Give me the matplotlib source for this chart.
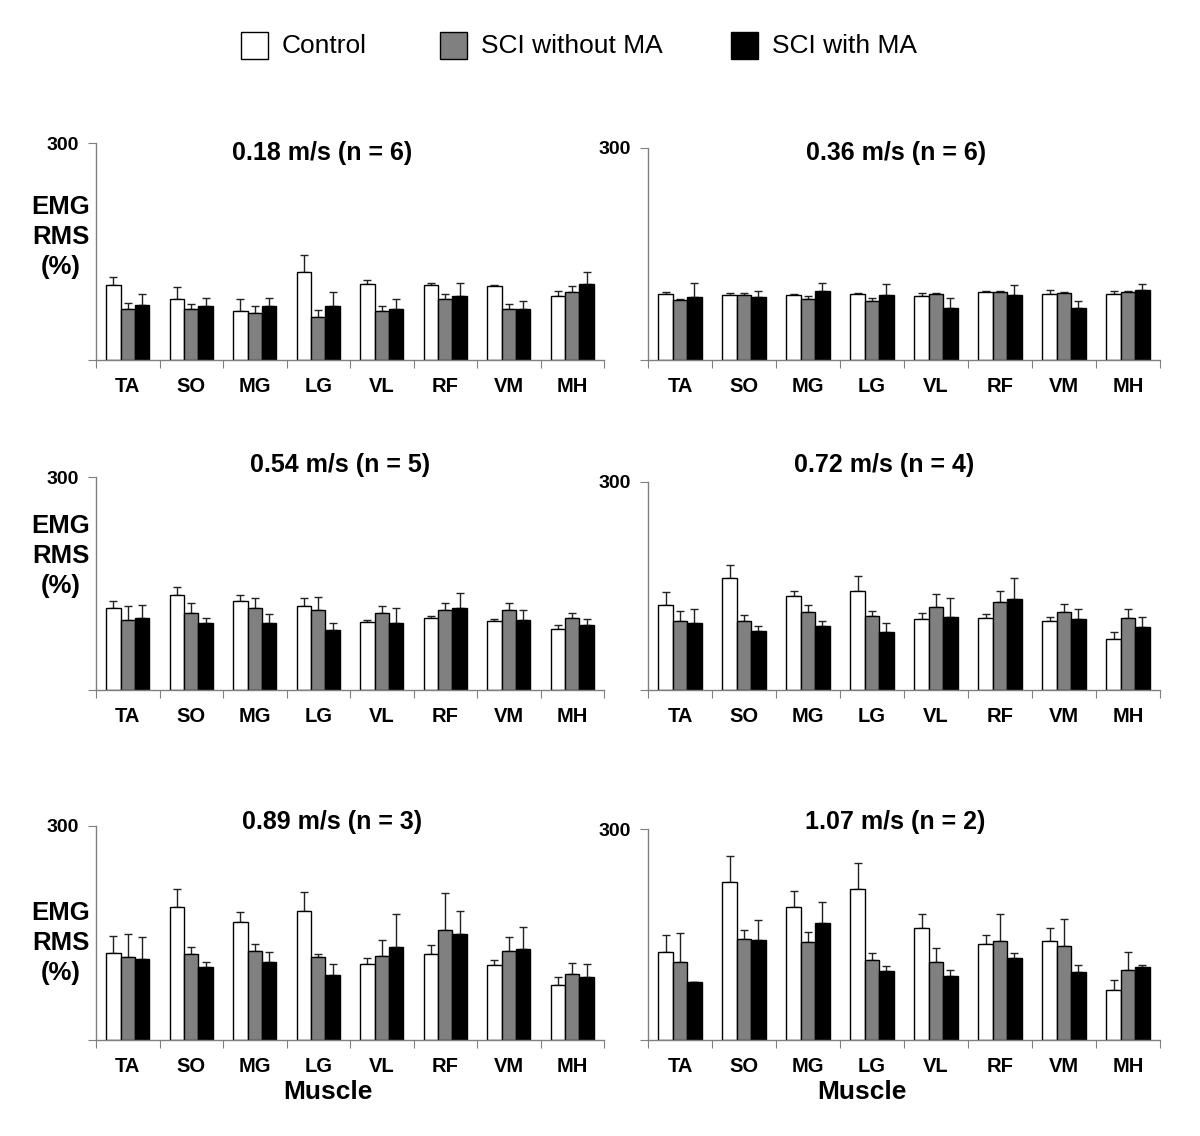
import numpy as np
import matplotlib
matplotlib.use('Agg')
import matplotlib.pyplot as plt
from matplotlib.patches import Rectangle

plt.rcParams['font.family'] = ['Liberation Sans', 'DejaVu Sans']

muscles = ['TA', 'SO', 'MG', 'LG', 'VL', 'RF', 'VM', 'MH']
groups = ['Control', 'SCI without MA', 'SCI with MA']
speeds = ['0.18 m/s (n = 6)', '0.36 m/s (n = 6)', '0.54 m/s (n = 5)',
          '0.72 m/s (n = 4)', '0.89 m/s (n = 3)', '1.07 m/s (n = 2)']

# mean EMG RMS (%) per speed, one list per group
control = [
    [103, 85, 68, 121, 105, 103, 102, 88],
    [94, 92, 92, 94, 90, 96, 94, 94],
    [115, 134, 126, 118, 96, 101, 97, 86],
    [122, 161, 135, 143, 103, 104, 100, 74],
    [122, 186, 165, 181, 107, 120, 105, 77],
    [125, 224, 189, 214, 159, 137, 141, 71],
]
control_err = [
    [12, 16, 16, 24, 5, 3, 1, 7],
    [2, 3, 2, 1, 5, 2, 5, 3],
    [11, 11, 8, 11, 3, 3, 3, 5],
    [19, 19, 8, 21, 8, 6, 6, 9],
    [24, 25, 14, 27, 8, 13, 7, 11],
    [25, 38, 23, 38, 20, 13, 18, 14],
]
sci_no_ma = [
    [71, 70, 65, 60, 68, 85, 70, 94],
    [85, 92, 87, 83, 94, 96, 95, 96],
    [99, 109, 116, 112, 109, 113, 113, 101],
    [99, 100, 113, 107, 119, 127, 113, 104],
    [116, 121, 125, 117, 118, 154, 125, 93],
    [111, 144, 140, 114, 111, 141, 133, 100],
]
sci_no_ma_err = [
    [8, 7, 9, 9, 6, 6, 7, 8],
    [2, 3, 4, 5, 1, 1, 1, 1],
    [20, 13, 13, 19, 9, 9, 9, 7],
    [15, 8, 9, 7, 19, 16, 11, 13],
    [33, 10, 10, 4, 22, 52, 20, 15],
    [41, 13, 14, 9, 20, 38, 39, 25],
]
sci_ma = [
    [76, 75, 74, 75, 70, 89, 70, 105],
    [89, 89, 98, 92, 73, 92, 74, 99],
    [101, 94, 95, 85, 94, 115, 98, 91],
    [96, 85, 93, 84, 105, 131, 102, 91],
    [114, 103, 110, 91, 130, 148, 128, 89],
    [82, 142, 166, 98, 91, 117, 96, 104],
]
sci_ma_err = [
    [15, 11, 12, 19, 15, 18, 11, 17],
    [20, 9, 11, 16, 15, 14, 9, 9],
    [19, 8, 12, 10, 22, 22, 15, 9],
    [21, 8, 7, 12, 28, 30, 15, 14],
    [30, 6, 14, 15, 46, 33, 31, 17],
    [1, 28, 30, 7, 9, 7, 10, 3],
]

colors = ['white', '#808080', 'black']
W, H = 1200, 1136

fig = plt.figure(figsize=(12, 11.36), dpi=100)

# axes boxes in pixels: left, right, top, baseline
boxes = [
    (96, 604, 143, 360), (648, 1160, 148, 360),
    (96, 604, 477, 690), (648, 1160, 482, 690),
    (96, 604, 826, 1040), (648, 1160, 829, 1040),
]
title_pos = [(322, 153), (896, 153), (340, 465), (884, 465), (332, 822), (895, 822)]

bw = 0.225
x = np.arange(len(muscles)) + 0.5
for p in range(6):
    l, r, t, b = boxes[p]
    ax = fig.add_axes([l / W, 1 - b / H, (r - l) / W, (b - t) / H])
    data = [control[p], sci_no_ma[p], sci_ma[p]]
    errs = [control_err[p], sci_no_ma_err[p], sci_ma_err[p]]
    for g in range(3):
        pos = x + (g - 1) * bw
        ax.bar(pos, data[g], bw, color=colors[g], edgecolor='black', linewidth=1.0, zorder=2)
        ax.errorbar(pos, data[g], yerr=[np.zeros(8), errs[g]], fmt='none',
                    ecolor='#222222', elinewidth=1.0, capsize=2.6, capthick=1.0, zorder=1)
    ax.set_xlim(0, 8)
    ax.set_ylim(0, 300)
    for s in ['top', 'right']:
        ax.spines[s].set_visible(False)
    for s in ['left', 'bottom']:
        ax.spines[s].set_color('#808080')
        ax.spines[s].set_linewidth(1.0)
    ax.set_yticks([0, 300])
    ax.set_yticklabels(['', '300'], fontsize=14, fontweight='bold')
    ax.tick_params(axis='y', direction='out', length=6, color='#808080', pad=6)
    ax.set_xticks(np.arange(9))
    ax.set_xticklabels([])
    ax.tick_params(axis='x', which='major', direction='out', length=6, color='#808080')
    ax.set_xticks(x, minor=True)
    ax.set_xticklabels(muscles, minor=True, fontsize=14.5, fontweight='bold')
    ax.tick_params(axis='x', which='minor', length=0, pad=12)
    tx, ty = title_pos[p]
    fig.text(tx / W, 1 - ty / H, speeds[p], ha='center', va='center', fontsize=18, fontweight='bold')

for yc in [237, 556, 943]:
    fig.text(61 / W, 1 - yc / H, 'EMG\nRMS\n(%)', ha='center', va='center',
             fontsize=18.5, fontweight='bold', linespacing=1.3)

for xc in [328, 862]:
    fig.text(xc / W, 1 - 1092 / H, 'Muscle', ha='center', va='center', fontsize=19, fontweight='bold')

# legend across the top
leg_box = [241, 440, 731]
for g in range(3):
    fig.add_artist(Rectangle((leg_box[g] / W, 1 - 59 / H), 27 / W, 27 / H,
                             transform=fig.transFigure, facecolor=colors[g],
                             edgecolor='black', linewidth=1.0))
    fig.text((leg_box[g] + 41) / W, 1 - 46 / H, groups[g], ha='left', va='center', fontsize=19)

fig.savefig('out.png', dpi=100)
